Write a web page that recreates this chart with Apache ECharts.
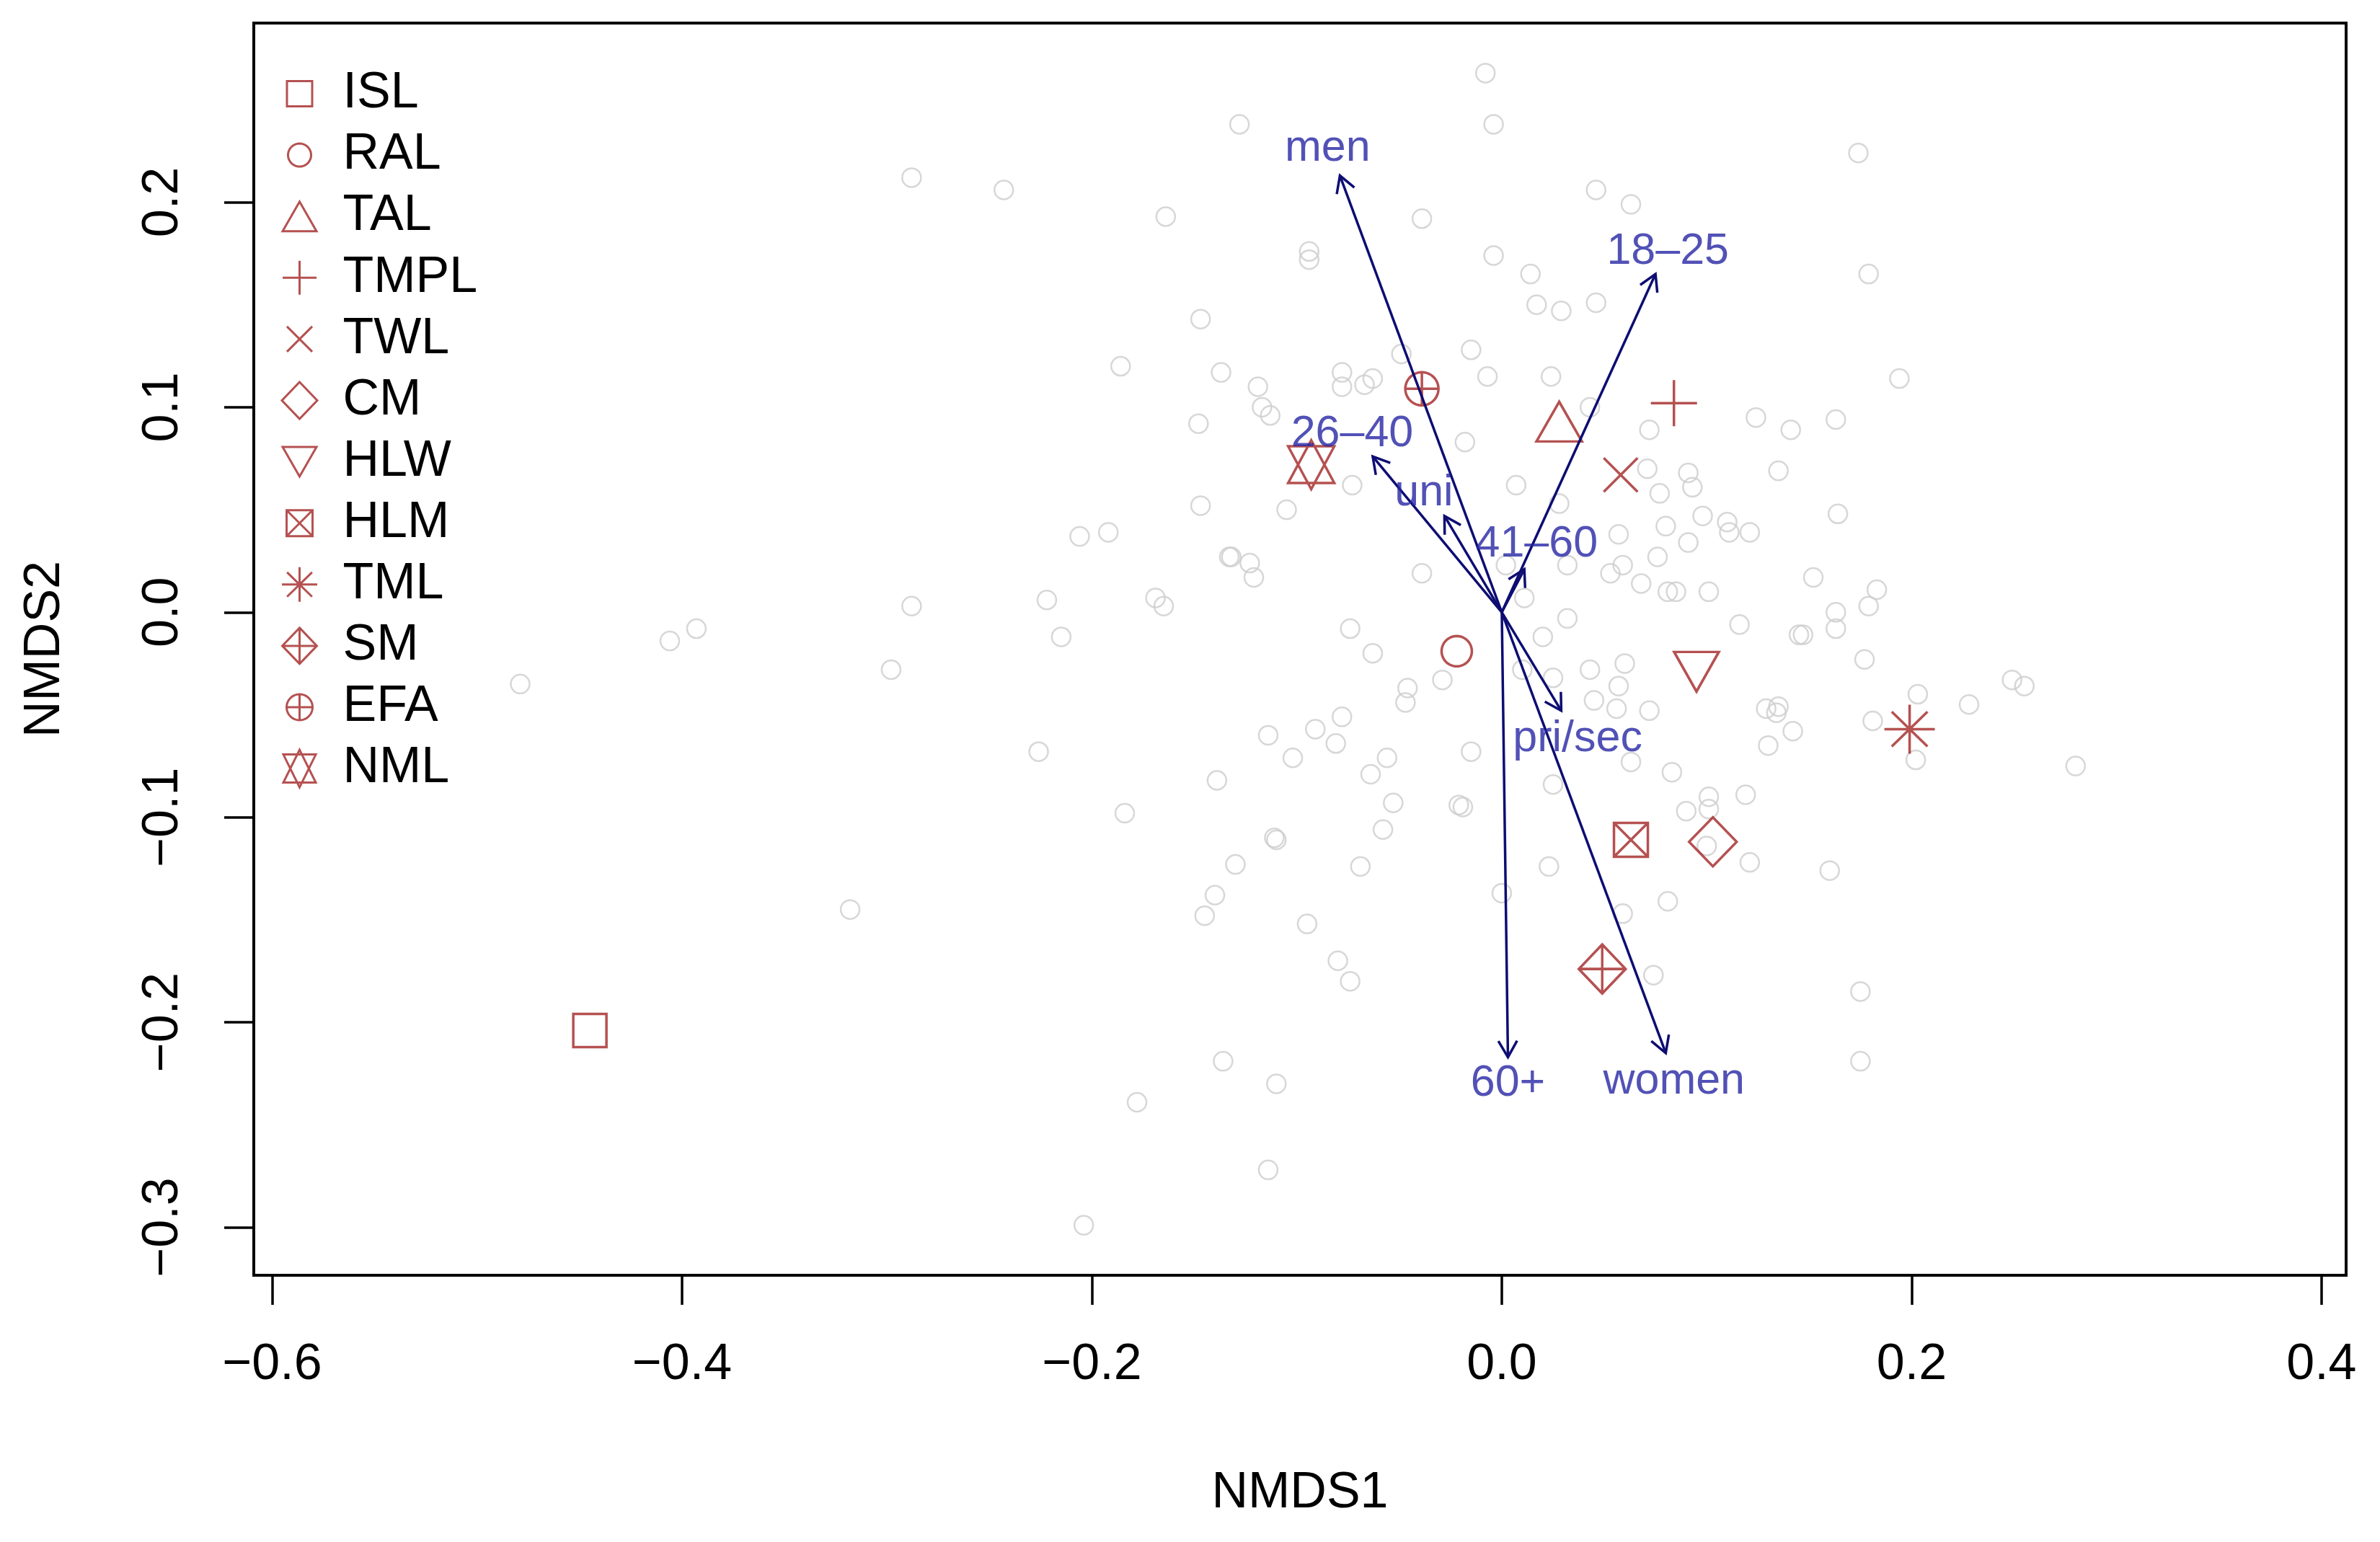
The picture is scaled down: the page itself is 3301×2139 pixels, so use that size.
<!DOCTYPE html>
<html>
<head>
<meta charset="utf-8">
<script src="https://cdn.jsdelivr.net/npm/echarts@6/dist/echarts.min.js"></script>
<style>
html,body{margin:0;padding:0;background:#fff;}
#chart{width:3301px;height:2139px;}
</style>
</head>
<body>
<div id="chart"></div>
<script>
// ---------------- DATA ----------------
const xTicks = [-0.6, -0.4, -0.2, 0.0, 0.2, 0.4];
const yTicks = [-0.3, -0.2, -0.1, 0.0, 0.1, 0.2];

// grey site scores (NMDS1, NMDS2)
const sites = [
  [-0.288,0.212],[-0.243,0.206],[-0.164,0.193],[-0.128,0.238],[-0.147,0.143],[-0.186,0.120],[-0.137,0.117],[-0.148,0.092],
  [-0.008,0.263],[-0.004,0.238],[-0.039,0.192],[0.046,0.206],[0.063,0.199],[-0.094,0.176],[-0.094,0.172],[-0.004,0.174],
  [0.014,0.165],[0.017,0.150],[0.029,0.147],[0.046,0.151],[-0.015,0.128],[-0.049,0.126],[-0.007,0.115],[0.024,0.115],
  [-0.078,0.117],[-0.078,0.110],[-0.067,0.111],[-0.063,0.114],[-0.119,0.110],[-0.117,0.100],[-0.113,0.096],[-0.018,0.083],
  [0.072,0.089],[0.043,0.100],[0.174,0.224],[0.179,0.165],[0.194,0.114],[0.124,0.095],[0.141,0.089],[0.163,0.094],
  [-0.147,0.052],[-0.206,0.037],[-0.192,0.039],[-0.133,0.027],[-0.288,0.003],[-0.222,0.006],[-0.169,0.007],[-0.165,0.003],
  [-0.215,-0.012],[-0.298,-0.028],[-0.226,-0.068],[-0.139,-0.082],[-0.184,-0.098],[-0.130,-0.123],
  [-0.073,0.062],[-0.105,0.050],[0.007,0.062],[0.077,0.058],[0.071,0.070],[0.028,0.053],[0.080,0.042],[0.057,0.038],
  [-0.132,0.027],[-0.123,0.024],[-0.121,0.017],[-0.039,0.019],[0.002,0.023],[0.032,0.023],[0.076,0.027],[0.059,0.023],
  [0.053,0.019],[0.068,0.014],[0.081,0.010],[0.011,0.007],[0.032,-0.003],[-0.074,-0.008],[0.020,-0.012],[-0.063,-0.020],
  [-0.029,-0.033],[-0.046,-0.037],[-0.047,-0.044],[0.043,-0.028],[0.060,-0.025],[0.025,-0.032],[0.057,-0.036],[0.045,-0.043],
  [0.056,-0.047],[0.072,-0.048],[0.010,-0.028],[-0.078,-0.051],[-0.091,-0.057],[-0.081,-0.064],[-0.114,-0.060],[-0.102,-0.071],
  [-0.056,-0.071],[-0.064,-0.079],[-0.015,-0.068],[0.063,-0.073],[0.083,-0.078],[0.025,-0.084],[-0.053,-0.093],[-0.021,-0.094],
  [-0.019,-0.095],[-0.058,-0.106],[-0.111,-0.110],[-0.110,-0.111],[-0.069,-0.124],[0.023,-0.124],
  [0.091,0.068],[0.093,0.061],[0.135,0.069],[0.098,0.047],[0.110,0.044],[0.111,0.039],[0.121,0.039],[0.091,0.034],
  [0.164,0.048],[0.152,0.017],[0.085,0.010],[0.101,0.010],[0.183,0.011],[0.179,0.003],[0.163,0.000],[0.163,-0.008],
  [0.116,-0.006],[0.145,-0.011],[0.147,-0.011],[0.177,-0.023],[0.249,-0.033],[0.255,-0.036],[0.203,-0.040],[0.228,-0.045],
  [0.129,-0.047],[0.135,-0.046],[0.134,-0.049],[0.142,-0.058],[0.181,-0.053],[0.202,-0.072],[0.130,-0.065],[0.280,-0.075],
  [0.101,-0.090],[0.101,-0.096],[0.090,-0.097],[0.119,-0.089],[0.100,-0.114],[0.121,-0.122],[0.160,-0.126],
  [-0.318,-0.145],[-0.140,-0.138],[-0.145,-0.148],[-0.136,-0.219],[-0.178,-0.239],[-0.204,-0.299],
  [0.000,-0.137],[0.081,-0.141],[0.059,-0.147],[-0.095,-0.152],[-0.080,-0.170],[-0.074,-0.180],[0.074,-0.177],
  [-0.110,-0.230],[-0.114,-0.272],[0.175,-0.185],[0.175,-0.219],
  [-0.479,-0.035],[-0.406,-0.014],[-0.393,-0.008]
];

// group centroids
const groupNames = ['ISL','RAL','TAL','TMPL','TWL','CM','HLW','HLM','TML','SM','EFA','NML'];
const groupX = [-0.445,-0.022,0.028,0.084,0.058,0.103,0.095,0.063,0.199,0.049,-0.039,-0.093];
const groupY = [-0.204,-0.019,0.093,0.102,0.067,-0.112,-0.029,-0.111,-0.057,-0.174,0.109,0.072];

// fitted vectors (envfit)
const vectorNames = ['men','18\u201325','26\u201340','uni','41\u201360','pri/sec','60+','women'];
const vectorX = [-0.079,0.075,-0.063,-0.028,0.011,0.029,0.003,0.080];
const vectorY = [0.213,0.165,0.076,0.047,0.021,-0.048,-0.217,-0.215];
const labelX = [-0.085,0.081,-0.073,-0.038,0.017,0.037,0.003,0.084];
const labelY = [0.226,0.176,0.087,0.058,0.033,-0.062,-0.230,-0.229];
const vectorOrigin = [0, 0];

// ---------------- STYLE ----------------
const FONT = "'Liberation Sans', Arial, Helvetica, sans-serif";
const RED = '#a32626';
const NAVY = '#0d0d73';
const LBLUE = '#2626a4';
const GREY = '#cdcdcd';

// glyph outlines in a 0..100 box (R pch shapes)
function circlePts(n) {
  const p = [];
  for (let i = 0; i < n; i++) { const a = 2 * Math.PI * i / n; p.push([50 + 50 * Math.cos(a), 50 + 50 * Math.sin(a)]); }
  return p;
}
const SQ = [[0,0],[100,0],[100,100],[0,100]];
const glyphs = {
  square:  [{p: SQ, z: true}],
  circle:  [{p: circlePts(48), z: true}],
  tri:     [{p: [[50,0],[100,100],[0,100]], z: true}],
  plus:    [{p: [[50,0],[50,100]]}, {p: [[0,50],[100,50]]}],
  cross:   [{p: [[0,0],[100,100]]}, {p: [[100,0],[0,100]]}],
  diamond: [{p: [[50,0],[100,50],[50,100],[0,50]], z: true}],
  dtri:    [{p: [[0,0],[100,0],[50,100]], z: true}],
  sqx:     [{p: SQ, z: true}, {p: [[0,0],[100,100]]}, {p: [[100,0],[0,100]]}],
  aster:   [{p: [[50,0],[50,100]]}, {p: [[0,50],[100,50]]}, {p: [[14.6,14.6],[85.4,85.4]]}, {p: [[85.4,14.6],[14.6,85.4]]}],
  dplus:   [{p: [[50,0],[100,50],[50,100],[0,50]], z: true}, {p: [[50,0],[50,100]]}, {p: [[0,50],[100,50]]}],
  cplus:   [{p: circlePts(48), z: true}, {p: [[50,0],[50,100]]}, {p: [[0,50],[100,50]]}],
  david:   [{p: [[50,0],[100,87.5],[0,87.5]], z: true}, {p: [[50,100],[100,12.5],[0,12.5]], z: true}]
};
// build an ECharts path symbol; with box S the glyph (w x h px) is centred in an S x S frame
function glyphPath(name, w, h, S) {
  const f = S ? (x, y) => [50 + (x - 50) * w / S, 50 + (y - 50) * h / S] : (x, y) => [x, y];
  let d = S ? 'M0,0M100,100' : '';
  glyphs[name].forEach(sp => {
    sp.p.forEach((pt, i) => { const q = f(pt[0], pt[1]); d += (i ? 'L' : 'M') + q[0].toFixed(2) + ',' + q[1].toFixed(2); });
    if (sp.z) d += 'Z';
  });
  return 'path://' + d;
}

// glyph + marker size in the plot + icon size in the legend (px)
const groupStyle = {
  ISL:  {g: 'square',  size: [46,46], leg: [35,35]},
  RAL:  {g: 'circle',  size: [42,42], leg: [32,32]},
  TAL:  {g: 'tri',     size: [63,55], leg: [47,41]},
  TMPL: {g: 'plus',    size: [64,64], leg: [47,47]},
  TWL:  {g: 'cross',   size: [47,47], leg: [35,35]},
  CM:   {g: 'diamond', size: [66,68], leg: [49,51]},
  HLW:  {g: 'dtri',    size: [62,55], leg: [47,41]},
  HLM:  {g: 'sqx',     size: [47,47], leg: [36,36]},
  TML:  {g: 'aster',   size: [70,68], leg: [49,48]},
  SM:   {g: 'dplus',   size: [65,68], leg: [48,50]},
  EFA:  {g: 'cplus',   size: [46,46], leg: [36,36]},
  NML:  {g: 'david',   size: [64,68], leg: [45,52]}
};
const LEG_BOX = 54;

const fmt = v => (v < 0 ? '\u2212' : '') + Math.abs(v).toFixed(1);

const chart = echarts.init(document.getElementById('chart'), null, {renderer: 'canvas'});

const groupSeries = groupNames.map((g, i) => ({
  type: 'scatter',
  name: g,
  data: [[groupX[i], groupY[i]]],
  symbol: glyphPath(groupStyle[g].g),
  symbolSize: groupStyle[g].size,
  itemStyle: {color: 'transparent', borderColor: RED, borderWidth: 3.5},
  z: 3,
  silent: true
}));

const legendData = groupNames.map(g => ({
  name: g,
  icon: glyphPath(groupStyle[g].g, groupStyle[g].leg[0], groupStyle[g].leg[1], LEG_BOX)
}));

const option = {
  animation: false,
  backgroundColor: '#ffffff',
  grid: {
    left: 352, right: 47, top: 32, bottom: 370,
    show: true, borderColor: '#000', borderWidth: 4, backgroundColor: 'transparent',
    containLabel: false, outerBoundsMode: 'none'
  },
  xAxis: {
    type: 'value', min: -0.609, max: 0.412,
    axisLine: {show: false, onZero: false},
    splitLine: {show: false},
    axisTick: {show: true, inside: false, length: 41, customValues: xTicks, lineStyle: {color: '#000', width: 3.5}},
    axisLabel: {show: true, customValues: xTicks, formatter: fmt, fontSize: 70, lineHeight: 70, color: '#000', fontFamily: FONT, margin: 90},
    name: 'NMDS1', nameLocation: 'middle', nameGap: 268,
    nameTextStyle: {fontSize: 70, lineHeight: 70, color: '#000', fontFamily: FONT}
  },
  yAxis: {
    type: 'value', min: -0.3234, max: 0.2874,
    axisLine: {show: false, onZero: false},
    splitLine: {show: false},
    axisTick: {show: true, inside: false, length: 41, customValues: yTicks, lineStyle: {color: '#000', width: 3.5}},
    axisLabel: {show: true, customValues: yTicks, formatter: fmt, rotate: 90, fontSize: 70, lineHeight: 70, color: '#000', fontFamily: FONT, margin: 90},
    name: 'NMDS2', nameLocation: 'middle', nameGap: 254, nameRotate: 90,
    nameTextStyle: {fontSize: 70, lineHeight: 70, color: '#000', fontFamily: FONT}
  },
  legend: {
    data: legendData,
    orient: 'vertical',
    left: 387, top: 95, padding: 0,
    itemGap: 15.1, itemWidth: 110, itemHeight: LEG_BOX,
    symbolKeepAspect: true,
    selectedMode: false,
    itemStyle: {borderWidth: 3},
    textStyle: {fontSize: 70, lineHeight: 70, color: '#000', fontFamily: FONT}
  },
  series: [
    {
      type: 'scatter', name: 'sites',
      data: sites,
      symbol: 'circle', symbolSize: 26,
      itemStyle: {color: 'transparent', borderColor: GREY, borderWidth: 2.5},
      z: 1, silent: true
    },
    ...groupSeries,
    {
      type: 'custom', name: 'vectors',
      data: vectorX.map((x, i) => [x, vectorY[i]]),
      z: 4, silent: true,
      renderItem: function (params, api) {
        const o = api.coord(vectorOrigin);
        const t = api.coord([api.value(0), api.value(1)]);
        const ang = Math.atan2(t[1] - o[1], t[0] - o[0]);
        const L = 26, A = Math.PI / 6;
        const p1 = [t[0] - L * Math.cos(ang - A), t[1] - L * Math.sin(ang - A)];
        const p2 = [t[0] - L * Math.cos(ang + A), t[1] - L * Math.sin(ang + A)];
        return {
          type: 'group',
          children: [
            {type: 'line', shape: {x1: o[0], y1: o[1], x2: t[0], y2: t[1]}, style: {stroke: NAVY, lineWidth: 3.5}},
            {type: 'polyline', shape: {points: [p1, t, p2]}, style: {stroke: NAVY, lineWidth: 3.5, fill: null}}
          ]
        };
      }
    },
    {
      type: 'scatter', name: 'vectorLabels',
      data: vectorNames.map((n, i) => ({name: n, value: [labelX[i], labelY[i]]})),
      symbolSize: 0, z: 5, silent: true,
      label: {show: true, position: 'inside', formatter: p => p.name, fontSize: 61, color: LBLUE, fontFamily: FONT}
    }
  ]
};

chart.setOption(option);
</script>
</body>
</html>
